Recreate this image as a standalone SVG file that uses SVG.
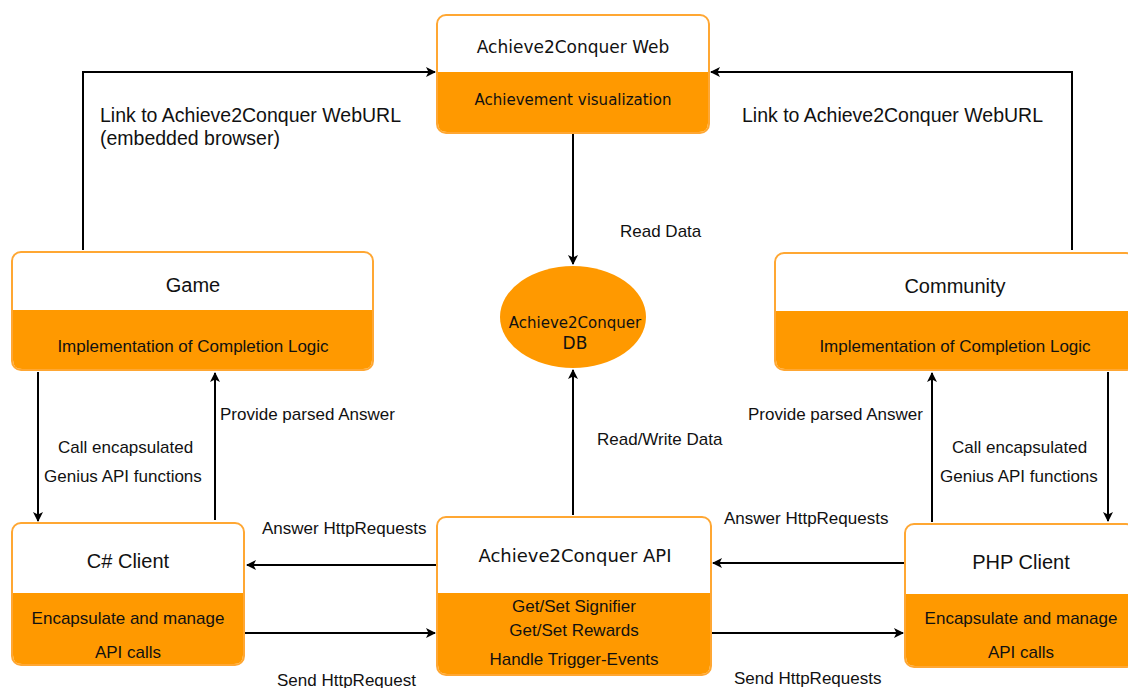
<svg xmlns="http://www.w3.org/2000/svg" width="1128" height="688" viewBox="0 0 1128 688">
<defs>
<marker id="ah" viewBox="0 0 10 10" refX="9" refY="5" markerWidth="10" markerHeight="10" markerUnits="userSpaceOnUse" orient="auto">
<path d="M0,0 L10,5 L0,10 L2.5,5 Z" fill="#000"/>
</marker>
<style>
.box{fill:#fff;stroke:#FFA733;stroke-width:2}
.band{fill:#FF9900}
.t{font-family:"Liberation Sans",Arial,sans-serif;fill:#111;text-anchor:middle}
.d{font-family:"DejaVu Sans",Verdana,sans-serif;fill:#111;text-anchor:middle}
.l{font-family:"Liberation Sans",Arial,sans-serif;fill:#111;font-size:17px}
.c{fill:none;stroke:#000;stroke-width:2;marker-end:url(#ah)}
</style>
</defs>
<rect width="1128" height="688" fill="#fff"/>
<g id="connectors">
<path class="c" d="M83,250 V72 H435"/>
<path class="c" d="M1072,250 V72 H711"/>
<path class="c" d="M573,134 V264"/>
<path class="c" d="M573,515 V370"/>
<path class="c" d="M38,372 V521"/>
<path class="c" d="M215,520 V373"/>
<path class="c" d="M1108,372 V521"/>
<path class="c" d="M932,522 V373"/>
<path class="c" d="M437,565 H247"/>
<path class="c" d="M245,633 H435"/>
<path class="c" d="M905,563 H713"/>
<path class="c" d="M711,633 H903"/>
</g>
<g id="labels">
<text class="l" x="100" y="122" style="font-size:19.5px">Link to Achieve2Conquer WebURL</text>
<text class="l" x="100" y="145" style="font-size:19.5px">(embedded browser)</text>
<text class="l" x="742" y="122" style="font-size:19.5px">Link to Achieve2Conquer WebURL</text>
<text class="l" x="620" y="237">Read Data</text>
<text class="l" x="597" y="445">Read/Write Data</text>
<text class="l" x="220" y="420">Provide parsed Answer</text>
<text class="l" x="58" y="453">Call encapsulated</text>
<text class="l" x="44" y="482">Genius API functions</text>
<text class="l" x="748" y="420">Provide parsed Answer</text>
<text class="l" x="952" y="453">Call encapsulated</text>
<text class="l" x="940" y="482">Genius API functions</text>
<text class="l" x="262" y="534">Answer HttpRequests</text>
<text class="l" x="724" y="524">Answer HttpRequests</text>
<text class="l" x="277" y="686">Send HttpRequest</text>
<text class="l" x="734" y="684">Send HttpRequests</text>
</g>
<g id="web">
<rect class="box" x="437" y="15" width="272" height="118" rx="9"/>
<path class="band" d="M438,72 H708 V123 Q708,132 699,132 H447 Q438,132 438,123 Z"/>
<text class="d" x="573" y="53" font-size="17">Achieve2Conquer Web</text>
<text class="d" x="573" y="105" font-size="15">Achievement visualization</text>
</g>
<g id="game">
<rect class="box" x="12" y="252" width="361" height="118" rx="9"/>
<path class="band" d="M13,310 H372 V360 Q372,369 363,369 H22 Q13,369 13,360 Z"/>
<text class="t" x="193" y="292" font-size="20">Game</text>
<text class="t" x="193" y="352" font-size="17">Implementation of Completion Logic</text>
</g>
<g id="community">
<rect class="box" x="775" y="253" width="360" height="117" rx="9"/>
<path class="band" d="M776,311 H1134 V369 H785 Q776,369 776,360 Z"/>
<text class="t" x="955" y="293" font-size="20">Community</text>
<text class="t" x="955" y="352" font-size="17">Implementation of Completion Logic</text>
</g>
<g id="db">
<ellipse cx="573" cy="317" rx="73" ry="51" fill="#FF9900"/>
<text class="d" x="575" y="328" font-size="15">Achieve2Conquer</text>
<text class="d" x="575" y="349" font-size="17">DB</text>
</g>
<g id="csharp">
<rect class="box" x="12" y="523" width="232" height="142" rx="9"/>
<path class="band" d="M13,593 H243 V655 Q243,664 234,664 H22 Q13,664 13,655 Z"/>
<text class="t" x="128" y="568" font-size="20">C# Client</text>
<text class="t" x="128" y="624" font-size="17">Encapsulate and manage</text>
<text class="t" x="128" y="658" font-size="17">API calls</text>
</g>
<g id="api">
<rect class="box" x="437" y="517" width="274" height="158" rx="9"/>
<path class="band" d="M438,593 H710 V665 Q710,674 701,674 H447 Q438,674 438,665 Z"/>
<text class="d" x="575" y="562" font-size="18">Achieve2Conquer API</text>
<text class="t" x="574" y="612" font-size="17">Get/Set Signifier</text>
<text class="t" x="574" y="636" font-size="17">Get/Set Rewards</text>
<text class="t" x="574" y="665" font-size="17">Handle Trigger-Events</text>
</g>
<g id="php">
<rect class="box" x="905" y="524" width="230" height="143" rx="9"/>
<path class="band" d="M906,594 H1134 V666 H915 Q906,666 906,657 Z"/>
<text class="t" x="1021" y="569" font-size="20">PHP Client</text>
<text class="t" x="1021" y="624" font-size="17">Encapsulate and manage</text>
<text class="t" x="1021" y="658" font-size="17">API calls</text>
</g>
</svg>
